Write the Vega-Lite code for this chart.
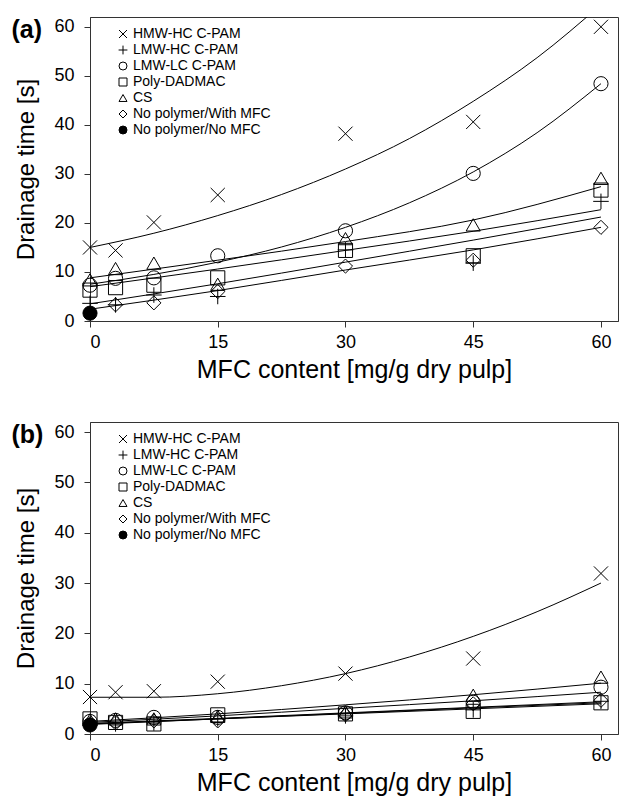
{
  "$schema": "https://vega.github.io/schema/vega-lite/v6.json",
  "padding": {"left": 10, "top": 16, "right": 0, "bottom": 0},
  "background": "white",
  "spacing": 38,
  "datasets": {
    "a_pts": [
      {"series": "HMW-HC C-PAM", "x": 0, "y": 15.0}, {"series": "HMW-HC C-PAM", "x": 3, "y": 14.4}, {"series": "HMW-HC C-PAM", "x": 7.5, "y": 20.1}, {"series": "HMW-HC C-PAM", "x": 15, "y": 25.7}, {"series": "HMW-HC C-PAM", "x": 30, "y": 38.2}, {"series": "HMW-HC C-PAM", "x": 45, "y": 40.6}, {"series": "HMW-HC C-PAM", "x": 60, "y": 60.0},
      {"series": "LMW-HC C-PAM", "x": 0, "y": 3.6}, {"series": "LMW-HC C-PAM", "x": 3, "y": 3.3}, {"series": "LMW-HC C-PAM", "x": 7.5, "y": 5.3}, {"series": "LMW-HC C-PAM", "x": 15, "y": 5.0}, {"series": "LMW-HC C-PAM", "x": 30, "y": 14.5}, {"series": "LMW-HC C-PAM", "x": 45, "y": 11.8}, {"series": "LMW-HC C-PAM", "x": 60, "y": 24.4},
      {"series": "LMW-LC C-PAM", "x": 0, "y": 7.3}, {"series": "LMW-LC C-PAM", "x": 3, "y": 8.7}, {"series": "LMW-LC C-PAM", "x": 7.5, "y": 8.8}, {"series": "LMW-LC C-PAM", "x": 15, "y": 13.3}, {"series": "LMW-LC C-PAM", "x": 30, "y": 18.4}, {"series": "LMW-LC C-PAM", "x": 45, "y": 30.1}, {"series": "LMW-LC C-PAM", "x": 60, "y": 48.4},
      {"series": "Poly-DADMAC", "x": 0, "y": 6.3}, {"series": "Poly-DADMAC", "x": 3, "y": 6.8}, {"series": "Poly-DADMAC", "x": 7.5, "y": 7.3}, {"series": "Poly-DADMAC", "x": 15, "y": 8.8}, {"series": "Poly-DADMAC", "x": 30, "y": 14.4}, {"series": "Poly-DADMAC", "x": 45, "y": 13.3}, {"series": "Poly-DADMAC", "x": 60, "y": 26.7},
      {"series": "CS", "x": 0, "y": 8.4}, {"series": "CS", "x": 3, "y": 10.7}, {"series": "CS", "x": 7.5, "y": 11.8}, {"series": "CS", "x": 15, "y": 7.5}, {"series": "CS", "x": 30, "y": 16.8}, {"series": "CS", "x": 45, "y": 19.6}, {"series": "CS", "x": 60, "y": 29.1},
      {"series": "No polymer/With MFC", "x": 3, "y": 3.3}, {"series": "No polymer/With MFC", "x": 7.5, "y": 3.7}, {"series": "No polymer/With MFC", "x": 15, "y": 6.0}, {"series": "No polymer/With MFC", "x": 30, "y": 11.2}, {"series": "No polymer/With MFC", "x": 45, "y": 12.4}, {"series": "No polymer/With MFC", "x": 60, "y": 19.1},
      {"series": "No polymer/No MFC", "x": 0, "y": 1.6}
    ],
    "a_fit": [
      {"series": "HMW-HC C-PAM", "x": 0, "y": 15.0}, {"series": "HMW-HC C-PAM", "x": 7.5, "y": 17.9}, {"series": "HMW-HC C-PAM", "x": 15, "y": 21.5}, {"series": "HMW-HC C-PAM", "x": 22.5, "y": 25.8}, {"series": "HMW-HC C-PAM", "x": 30, "y": 31.0}, {"series": "HMW-HC C-PAM", "x": 37.5, "y": 37.2}, {"series": "HMW-HC C-PAM", "x": 45, "y": 44.8}, {"series": "HMW-HC C-PAM", "x": 52.5, "y": 53.7}, {"series": "HMW-HC C-PAM", "x": 60, "y": 64.5},
      {"series": "LMW-LC C-PAM", "x": 0, "y": 7.5}, {"series": "LMW-LC C-PAM", "x": 7.5, "y": 9.5}, {"series": "LMW-LC C-PAM", "x": 15, "y": 12.0}, {"series": "LMW-LC C-PAM", "x": 22.5, "y": 15.1}, {"series": "LMW-LC C-PAM", "x": 30, "y": 19.1}, {"series": "LMW-LC C-PAM", "x": 37.5, "y": 24.1}, {"series": "LMW-LC C-PAM", "x": 45, "y": 30.4}, {"series": "LMW-LC C-PAM", "x": 52.5, "y": 38.4}, {"series": "LMW-LC C-PAM", "x": 60, "y": 48.4},
      {"series": "CS", "x": 0, "y": 8.8}, {"series": "CS", "x": 15, "y": 12.4}, {"series": "CS", "x": 30, "y": 16.2}, {"series": "CS", "x": 45, "y": 20.6}, {"series": "CS", "x": 60, "y": 27.4},
      {"series": "Poly-DADMAC", "x": 0, "y": 7.0}, {"series": "Poly-DADMAC", "x": 15, "y": 10.6}, {"series": "Poly-DADMAC", "x": 30, "y": 14.4}, {"series": "Poly-DADMAC", "x": 45, "y": 18.3}, {"series": "Poly-DADMAC", "x": 60, "y": 22.7},
      {"series": "LMW-HC C-PAM", "x": 0, "y": 3.5}, {"series": "LMW-HC C-PAM", "x": 15, "y": 7.6}, {"series": "LMW-HC C-PAM", "x": 30, "y": 12.0}, {"series": "LMW-HC C-PAM", "x": 45, "y": 16.5}, {"series": "LMW-HC C-PAM", "x": 60, "y": 21.2},
      {"series": "No polymer/With MFC", "x": 0, "y": 2.4}, {"series": "No polymer/With MFC", "x": 15, "y": 6.2}, {"series": "No polymer/With MFC", "x": 30, "y": 10.4}, {"series": "No polymer/With MFC", "x": 45, "y": 14.5}, {"series": "No polymer/With MFC", "x": 60, "y": 19.1}
    ],
    "b_pts": [
      {"series": "HMW-HC C-PAM", "x": 0, "y": 7.35}, {"series": "HMW-HC C-PAM", "x": 3, "y": 8.3}, {"series": "HMW-HC C-PAM", "x": 7.5, "y": 8.5}, {"series": "HMW-HC C-PAM", "x": 15, "y": 10.4}, {"series": "HMW-HC C-PAM", "x": 30, "y": 12.0}, {"series": "HMW-HC C-PAM", "x": 45, "y": 15.0}, {"series": "HMW-HC C-PAM", "x": 60, "y": 31.9},
      {"series": "LMW-HC C-PAM", "x": 0, "y": 2.0}, {"series": "LMW-HC C-PAM", "x": 3, "y": 2.0}, {"series": "LMW-HC C-PAM", "x": 7.5, "y": 2.2}, {"series": "LMW-HC C-PAM", "x": 15, "y": 3.0}, {"series": "LMW-HC C-PAM", "x": 30, "y": 3.6}, {"series": "LMW-HC C-PAM", "x": 45, "y": 4.8}, {"series": "LMW-HC C-PAM", "x": 60, "y": 6.5},
      {"series": "LMW-LC C-PAM", "x": 0, "y": 2.5}, {"series": "LMW-LC C-PAM", "x": 3, "y": 2.7}, {"series": "LMW-LC C-PAM", "x": 7.5, "y": 3.3}, {"series": "LMW-LC C-PAM", "x": 15, "y": 3.3}, {"series": "LMW-LC C-PAM", "x": 30, "y": 4.2}, {"series": "LMW-LC C-PAM", "x": 45, "y": 6.3}, {"series": "LMW-LC C-PAM", "x": 60, "y": 9.3},
      {"series": "Poly-DADMAC", "x": 0, "y": 3.0}, {"series": "Poly-DADMAC", "x": 3, "y": 2.3}, {"series": "Poly-DADMAC", "x": 7.5, "y": 2.0}, {"series": "Poly-DADMAC", "x": 15, "y": 3.8}, {"series": "Poly-DADMAC", "x": 30, "y": 4.0}, {"series": "Poly-DADMAC", "x": 45, "y": 4.5}, {"series": "Poly-DADMAC", "x": 60, "y": 6.2},
      {"series": "CS", "x": 0, "y": 2.8}, {"series": "CS", "x": 3, "y": 3.0}, {"series": "CS", "x": 7.5, "y": 3.0}, {"series": "CS", "x": 15, "y": 3.5}, {"series": "CS", "x": 30, "y": 4.4}, {"series": "CS", "x": 45, "y": 7.7}, {"series": "CS", "x": 60, "y": 11.3},
      {"series": "No polymer/With MFC", "x": 3, "y": 2.2}, {"series": "No polymer/With MFC", "x": 7.5, "y": 2.6}, {"series": "No polymer/With MFC", "x": 15, "y": 2.6}, {"series": "No polymer/With MFC", "x": 30, "y": 3.8}, {"series": "No polymer/With MFC", "x": 45, "y": 6.0}, {"series": "No polymer/With MFC", "x": 60, "y": 6.7},
      {"series": "No polymer/No MFC", "x": 0, "y": 1.8}
    ],
    "b_fit": [
      {"series": "HMW-HC C-PAM", "x": 0, "y": 7.3}, {"series": "HMW-HC C-PAM", "x": 7.5, "y": 7.3}, {"series": "HMW-HC C-PAM", "x": 15, "y": 8.0}, {"series": "HMW-HC C-PAM", "x": 22.5, "y": 9.6}, {"series": "HMW-HC C-PAM", "x": 30, "y": 12.0}, {"series": "HMW-HC C-PAM", "x": 37.5, "y": 15.3}, {"series": "HMW-HC C-PAM", "x": 45, "y": 19.4}, {"series": "HMW-HC C-PAM", "x": 52.5, "y": 24.3}, {"series": "HMW-HC C-PAM", "x": 60, "y": 30.0},
      {"series": "CS", "x": 0, "y": 2.5}, {"series": "CS", "x": 15, "y": 4.0}, {"series": "CS", "x": 30, "y": 5.8}, {"series": "CS", "x": 45, "y": 7.8}, {"series": "CS", "x": 60, "y": 10.1},
      {"series": "LMW-LC C-PAM", "x": 0, "y": 2.3}, {"series": "LMW-LC C-PAM", "x": 15, "y": 3.6}, {"series": "LMW-LC C-PAM", "x": 30, "y": 5.1}, {"series": "LMW-LC C-PAM", "x": 45, "y": 6.6}, {"series": "LMW-LC C-PAM", "x": 60, "y": 8.3},
      {"series": "Poly-DADMAC", "x": 0, "y": 2.0}, {"series": "Poly-DADMAC", "x": 15, "y": 3.0}, {"series": "Poly-DADMAC", "x": 30, "y": 4.0}, {"series": "Poly-DADMAC", "x": 45, "y": 5.0}, {"series": "Poly-DADMAC", "x": 60, "y": 6.0},
      {"series": "LMW-HC C-PAM", "x": 0, "y": 2.1}, {"series": "LMW-HC C-PAM", "x": 15, "y": 3.1}, {"series": "LMW-HC C-PAM", "x": 30, "y": 4.2}, {"series": "LMW-HC C-PAM", "x": 45, "y": 5.3}, {"series": "LMW-HC C-PAM", "x": 60, "y": 6.4},
      {"series": "No polymer/With MFC", "x": 0, "y": 1.9}, {"series": "No polymer/With MFC", "x": 15, "y": 3.0}, {"series": "No polymer/With MFC", "x": 30, "y": 4.1}, {"series": "No polymer/With MFC", "x": 45, "y": 5.2}, {"series": "No polymer/With MFC", "x": 60, "y": 6.2}
    ]
  },
  "vconcat": [
    {
      "width": 528,
      "height": 304,
      "resolve": {"axis": {"x": "independent"}},
      "layer": [
        {
          "data": {"name": "a_fit"},
          "mark": {"type": "line", "interpolate": "monotone", "clip": true, "stroke": "black", "strokeWidth": 1},
          "encoding": {
            "x": {"field": "x", "type": "quantitative", "scale": {"domain": [0, 62], "nice": false}, "axis": {"values": [0, 15, 30, 45, 60], "title": "MFC content [mg/g dry pulp]"}},
            "y": {"field": "y", "type": "quantitative", "scale": {"domain": [0, 62], "nice": false}, "axis": {"values": [0, 10, 20, 30, 40, 50, 60], "title": "Drainage time [s]"}},
            "detail": {"field": "series"}
          }
        },
        {
          "data": {"name": "a_pts"},
          "mark": {"type": "point", "filled": false, "strokeWidth": 1, "size": 200, "opacity": 1},
          "encoding": {
            "x": {"field": "x", "type": "quantitative", "axis": {"orient": "top", "title": "(a)", "labels": false, "ticks": false, "domain": false, "grid": false, "titleX": -79, "titleY": 12, "titleAngle": 0, "titleAlign": "left", "titleBaseline": "middle", "titleFontSize": 25, "titleFontWeight": "bold", "titlePadding": 0}},
            "y": {"field": "y", "type": "quantitative"},
            "shape": {"field": "series", "type": "nominal", "scale": {"domain": ["HMW-HC C-PAM", "LMW-HC C-PAM", "LMW-LC C-PAM", "Poly-DADMAC", "CS", "No polymer/With MFC", "No polymer/No MFC"], "range": ["M-1,-1L1,1M1,-1L-1,1", "M-1.1,0L1.1,0M0,-1.1L0,1.1", "circle", "square", "triangle-up", "diamond", "circle"]}, "legend": {"orient": "none", "legendX": 26, "legendY": 10}},
            "fill": {"field": "series", "type": "nominal", "scale": {"domain": ["HMW-HC C-PAM", "LMW-HC C-PAM", "LMW-LC C-PAM", "Poly-DADMAC", "CS", "No polymer/With MFC", "No polymer/No MFC"], "range": ["transparent", "transparent", "transparent", "transparent", "transparent", "transparent", "black"]}, "legend": {"orient": "none", "legendX": 26, "legendY": 10}},
            "stroke": {"field": "series", "type": "nominal", "scale": {"domain": ["HMW-HC C-PAM", "LMW-HC C-PAM", "LMW-LC C-PAM", "Poly-DADMAC", "CS", "No polymer/With MFC", "No polymer/No MFC"], "range": ["black", "black", "black", "black", "black", "black", "black"]}, "legend": {"orient": "none", "legendX": 26, "legendY": 10}}
          }
        }
      ]
    },
    {
      "width": 528,
      "height": 312,
      "resolve": {"axis": {"x": "independent"}},
      "layer": [
        {
          "data": {"name": "b_fit"},
          "mark": {"type": "line", "interpolate": "monotone", "clip": true, "stroke": "black", "strokeWidth": 1},
          "encoding": {
            "x": {"field": "x", "type": "quantitative", "scale": {"domain": [0, 62], "nice": false}, "axis": {"values": [0, 15, 30, 45, 60], "title": "MFC content [mg/g dry pulp]"}},
            "y": {"field": "y", "type": "quantitative", "scale": {"domain": [0, 62], "nice": false}, "axis": {"values": [0, 10, 20, 30, 40, 50, 60], "title": "Drainage time [s]"}},
            "detail": {"field": "series"}
          }
        },
        {
          "data": {"name": "b_pts"},
          "mark": {"type": "point", "filled": false, "strokeWidth": 1, "size": 200, "opacity": 1},
          "encoding": {
            "x": {"field": "x", "type": "quantitative", "axis": {"orient": "top", "title": "(b)", "labels": false, "ticks": false, "domain": false, "grid": false, "titleX": -79, "titleY": 12, "titleAngle": 0, "titleAlign": "left", "titleBaseline": "middle", "titleFontSize": 25, "titleFontWeight": "bold", "titlePadding": 0}},
            "y": {"field": "y", "type": "quantitative"},
            "shape": {"field": "series", "type": "nominal", "scale": {"domain": ["HMW-HC C-PAM", "LMW-HC C-PAM", "LMW-LC C-PAM", "Poly-DADMAC", "CS", "No polymer/With MFC", "No polymer/No MFC"], "range": ["M-1,-1L1,1M1,-1L-1,1", "M-1.1,0L1.1,0M0,-1.1L0,1.1", "circle", "square", "triangle-up", "diamond", "circle"]}, "legend": {"orient": "none", "legendX": 26, "legendY": 10}},
            "fill": {"field": "series", "type": "nominal", "scale": {"domain": ["HMW-HC C-PAM", "LMW-HC C-PAM", "LMW-LC C-PAM", "Poly-DADMAC", "CS", "No polymer/With MFC", "No polymer/No MFC"], "range": ["transparent", "transparent", "transparent", "transparent", "transparent", "transparent", "black"]}, "legend": {"orient": "none", "legendX": 26, "legendY": 10}},
            "stroke": {"field": "series", "type": "nominal", "scale": {"domain": ["HMW-HC C-PAM", "LMW-HC C-PAM", "LMW-LC C-PAM", "Poly-DADMAC", "CS", "No polymer/With MFC", "No polymer/No MFC"], "range": ["black", "black", "black", "black", "black", "black", "black"]}, "legend": {"orient": "none", "legendX": 26, "legendY": 10}}
          }
        }
      ]
    }
  ],
  "resolve": {"legend": {"shape": "independent", "fill": "independent", "stroke": "independent"}},
  "config": {
    "font": "Liberation Sans",
    "view": {"stroke": "#333", "strokeWidth": 1},
    "axis": {
      "grid": false,
      "domainColor": "#333",
      "tickColor": "#333",
      "tickSize": 6,
      "labelFont": "Liberation Sans",
      "labelFontSize": 18,
      "labelColor": "black",
      "titleFont": "Liberation Sans",
      "titleFontSize": 24,
      "titleFontWeight": "normal",
      "titleColor": "black"
    },
    "axisX": {"labelPadding": 6, "titlePadding": 6, "titleFontSize": 25},
    "axisY": {"labelPadding": 10, "titlePadding": 15},
    "legend": {
      "title": null,
      "labelFont": "Liberation Sans",
      "labelFontSize": 14,
      "labelColor": "black",
      "symbolSize": 64,
      "symbolStrokeWidth": 1,
      "labelOffset": 3,
      "rowPadding": 2,
      "padding": 0
    }
  }
}
